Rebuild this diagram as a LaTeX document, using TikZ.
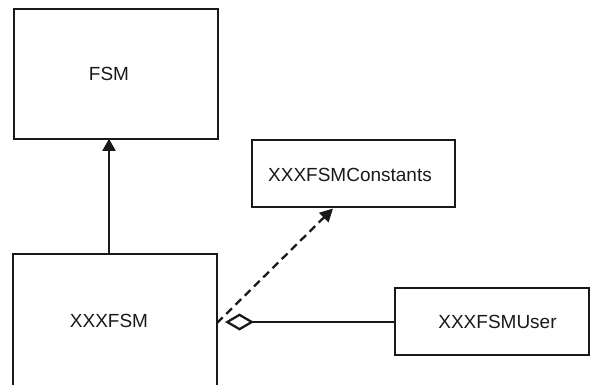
\documentclass[tikz,border=0pt]{standalone}
\usepackage{fontspec}
\setmainfont{Liberation Sans}
\usetikzlibrary{arrows.meta}
\begin{document}
\begin{tikzpicture}[x=1pt,y=-1pt,
  classbox/.style={draw=black!90, line width=2.6pt, fill=none, inner sep=0pt},
  lbl/.style={font=\fontsize{19}{22}\selectfont, text=black!90, inner sep=0pt},
  conn/.style={draw=black!90, line width=2pt},
  inherit/.style={conn, -{Triangle[length=12pt,width=13pt]}},
  depend/.style={conn, line width=2.3pt, dash pattern=on 8pt off 5pt, -{Triangle[length=13pt,width=13pt]}},
  aggr/.style={conn, line width=2.3pt, -{Diamond[open,length=29pt,width=17pt]}}]
\useasboundingbox (0,0) rectangle (591,384);
\clip (0,0) rectangle (591,384);
% boxes
\node[classbox, minimum width=204pt, minimum height=130pt] (fsm) at (116,74) {};
\node[lbl] (fsmt) at (109,74) {FSM};
\node[classbox, minimum width=203pt, minimum height=67pt] (cst) at (353.5,173.5) {};
\node[lbl] (cstt) at (350,175) {XXXFSMConstants};
\node[classbox, minimum width=204pt, minimum height=140pt] (xfsm) at (115,324) {};
\node[lbl] (xfsmt) at (109,321) {XXXFSM};
\node[classbox, minimum width=194pt, minimum height=67pt] (user) at (492,321.5) {};
\node[lbl] (usert) at (497.5,321.5) {XXXFSMUser};
% connectors
\coordinate (inhS) at (xfsm.north -| 109,0);
\coordinate (inhE) at ([yshift=1.5pt]fsm.south -| 109,0);
\draw[inherit] (inhS) -- (inhE);
\coordinate (depS) at (217,323);
\coordinate (depE) at (333,208.5);
\draw[depend] (depS) -- (depE);
\coordinate (aggE) at (225,322);
\draw[aggr] (user.west |- aggE) -- (aggE);
\end{tikzpicture}
\end{document}
